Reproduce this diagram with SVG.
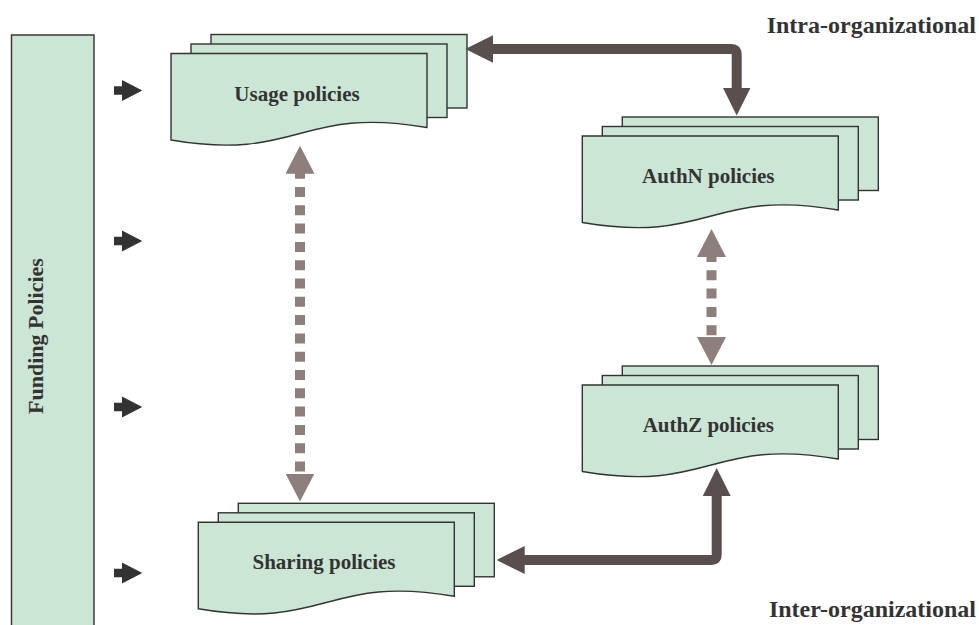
<svg xmlns="http://www.w3.org/2000/svg" xmlns:xlink="http://www.w3.org/1999/xlink" width="979" height="625" viewBox="0 0 979 625">
  <style>
    .sheet { fill: #cce6d5; stroke: #333333; stroke-width: 1.4; }
    .label { font-family: "Liberation Serif", "Times New Roman", serif; font-weight: bold; font-size: 21px; fill: #333333; text-anchor: middle; }
    .side { font-family: "Liberation Serif", "Times New Roman", serif; font-weight: bold; font-size: 24px; fill: #333333; text-anchor: end; }
    .solid { fill: none; stroke: #594f4c; stroke-width: 10; stroke-linejoin: round; }
    .dashed { fill: none; stroke: #8c7f7c; stroke-width: 10; stroke-dasharray: 10 8.3; stroke-dashoffset: 4; }
    .feed { fill: #333333; }
  </style>
  <defs>
    <!-- a stack of three policy sheets, origin at the front sheet's top-left corner -->
    <g id="stack">
      <rect class="sheet" x="40" y="-19" width="256" height="73.5"/>
      <rect class="sheet" x="20" y="-9.5" width="256" height="73.5"/>
      <path class="sheet" d="M0,0 H256 V74 C128,52 128,108.5 0,86.5 Z"/>
    </g>
    <path id="feedArrow" d="M114,-4.3 H122 V-10.5 L142.3,0 L122,10.5 V4.3 H114 Z"/>
    <marker id="headDark" markerUnits="userSpaceOnUse" viewBox="0 -14 28 28" markerWidth="28" markerHeight="28" refX="1" refY="0" orient="auto-start-reverse">
      <path d="M0,-14 L28,0 L0,14 Z" fill="#594f4c"/>
    </marker>
    <marker id="headLight" markerUnits="userSpaceOnUse" viewBox="0 -14.5 28 29" markerWidth="28" markerHeight="29" refX="1" refY="0" orient="auto-start-reverse">
      <path d="M0,-14.5 L28,0 L0,14.5 Z" fill="#8c7f7c"/>
    </marker>
  </defs>

  <rect width="979" height="625" fill="#ffffff"/>

  <!-- funding bar along the left side -->
  <g id="funding">
    <rect x="11.5" y="35" width="82.5" height="600" fill="#cce6d5" stroke="#3a3a3a" stroke-width="1.5"/>
    <text class="label" font-size="22" style="font-size:22px" transform="translate(43,336) rotate(-90)">Funding Policies</text>
  </g>

  <!-- feed arrows from the funding bar -->
  <g id="feeds" class="feed">
    <use xlink:href="#feedArrow" href="#feedArrow" transform="translate(0,90.5)"/>
    <use xlink:href="#feedArrow" href="#feedArrow" transform="translate(0,241)"/>
    <use xlink:href="#feedArrow" href="#feedArrow" transform="translate(0,407)"/>
    <use xlink:href="#feedArrow" href="#feedArrow" transform="translate(0,573)"/>
  </g>

  <g id="usage">
    <use xlink:href="#stack" href="#stack" transform="translate(171,53.5)"/>
    <text class="label" x="297" y="100.7">Usage policies</text>
  </g>

  <g id="authn">
    <use xlink:href="#stack" href="#stack" transform="translate(582.3,136)"/>
    <text class="label" x="708.3" y="183.3">AuthN policies</text>
  </g>

  <g id="authz">
    <use xlink:href="#stack" href="#stack" transform="translate(582.3,385)"/>
    <text class="label" x="708.3" y="431.7">AuthZ policies</text>
  </g>

  <g id="sharing">
    <use xlink:href="#stack" href="#stack" transform="translate(198.3,522.3)"/>
    <text class="label" x="324" y="569.3">Sharing policies</text>
  </g>

  <g id="connectors">
    <path class="solid" d="M492.3,49 H731.7 Q736.7,49 736.7,54 V88.5" marker-start="url(#headDark)" marker-end="url(#headDark)"/>
    <path class="solid" d="M523.7,560 H711.7 Q716.7,560 716.7,555 V495" marker-start="url(#headDark)" marker-end="url(#headDark)"/>
    <path class="dashed" d="M300,172.7 V474.5" marker-start="url(#headLight)" marker-end="url(#headLight)"/>
    <path class="dashed" d="M711.5,256 V338" marker-start="url(#headLight)" marker-end="url(#headLight)"/>
  </g>

  <g id="scope-labels">
    <text class="side" x="976" y="33.3">Intra-organizational</text>
    <text class="side" x="976" y="617">Inter-organizational</text>
  </g>
</svg>
